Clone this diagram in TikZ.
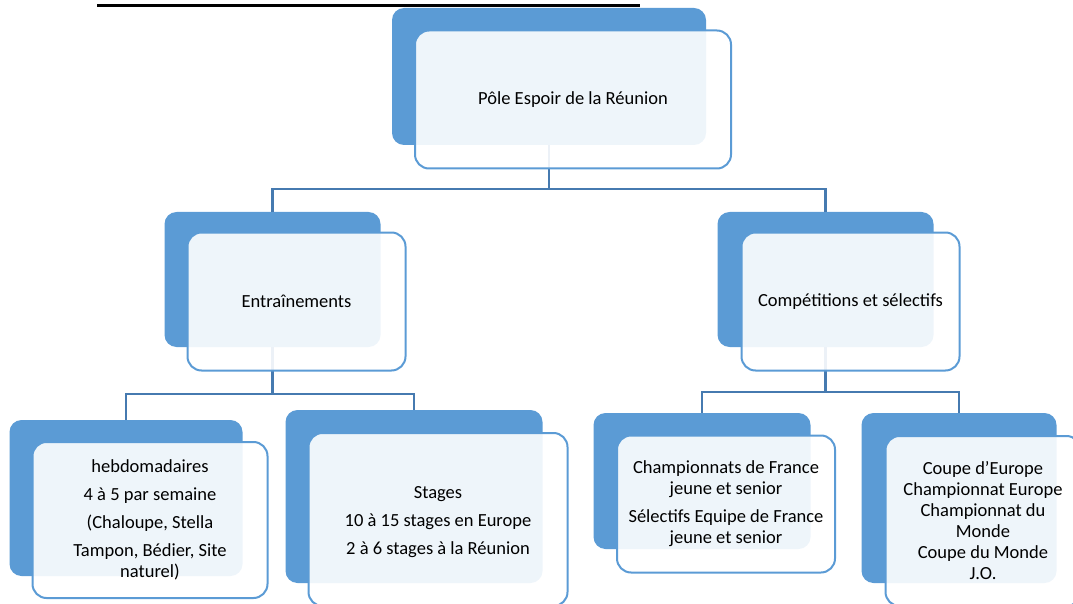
\documentclass[tikz,border=0pt]{standalone}
\usepackage{fontspec}
\setmainfont{Carlito}
\usetikzlibrary{calc}
\definecolor{blk}{RGB}{91,155,213}
\definecolor{lnk}{RGB}{70,122,176}
\begin{document}
\begin{tikzpicture}[x=1pt,y=-1pt,
  back/.style={fill=blk, rounded corners=12pt, inner sep=0pt},
  front/.style={draw=blk, line width=2pt, fill=white, fill opacity=0.9, text opacity=1,
     rounded corners=14pt, inner sep=0pt, align=center, text=black,
     font=\fontsize{18.5}{21}\selectfont},
  conn/.style={draw=lnk, line width=2.5pt}]
\useasboundingbox (0,0) rectangle (1073,604);
% title underline (text cut off at top)
\coordinate (ul1) at (97,6);
\coordinate (ul2) at (640,6);
\draw[line width=3pt] (ul1) -- (ul2);
% back boxes
\node[back, minimum width=314pt, minimum height=137pt] (top) at (549,76.5) {};
\node[back, minimum width=216pt, minimum height=135pt] (ml) at (272.5,279.5) {};
\node[back, minimum width=216pt, minimum height=135pt] (mr) at (825.5,279.5) {};
\node[back, minimum width=233pt, minimum height=156pt] (b1) at (126,498) {};
\node[back, minimum width=257pt, minimum height=173pt] (b2) at (414,496.5) {};
\node[back, minimum width=217pt, minimum height=136pt] (b3) at (702,481) {};
\node[back, minimum width=195pt, minimum height=170pt] (b4) at (959,498) {};
% connectors
\coordinate (y1) at (0,189);
\coordinate (y2) at (0,394);
\coordinate (y3) at (0,392);
\draw[conn] (top.south) -- (top.south |- y1) -| (ml.north);
\draw[conn] (top.south |- y1) -| (mr.north);
\draw[conn] (ml.south) -- (ml.south |- y2) -| (b1.north);
\draw[conn] (ml.south |- y2) -| (b2.north);
\draw[conn] (mr.south) -- (mr.south |- y3) -| (b3.north);
\draw[conn] (mr.south |- y3) -| (b4.north);
% front boxes
\node[front, minimum width=316pt, minimum height=138pt] (topf) at ($(top.center)+(24,23)$) {Pôle Espoir de la Réunion};
\node[front, minimum width=218pt, minimum height=138pt] (mlf) at ($(ml.center)+(24,22)$) {Entraînements};
\node[front, minimum width=218pt, minimum height=138pt] (mrf) at ($(mr.center)+(25,22)$) {Compétitions et sélectifs};
\node[front, minimum width=235pt, minimum height=156pt] (b1f) at ($(b1.center)+(24,22)$) {hebdomadaires\\[7pt]4 à 5 par semaine\\[7pt](Chaloupe, Stella\\[7pt]Tampon, Bédier, Site\\naturel)};
\node[front, minimum width=259pt, minimum height=173pt] (b2f) at ($(b2.center)+(24,23)$) {\\[-4pt]Stages\\[7pt]10 à 15 stages en Europe\\[7pt]2 à 6 stages à la Réunion};
\node[front, minimum width=218pt, minimum height=137pt] (b3f) at ($(b3.center)+(24,23)$) {Championnats de France\\jeune et senior\\[7pt]Sélectifs Equipe de France\\jeune et senior};
\node[front, minimum width=195pt, minimum height=170pt] (b4f) at ($(b4.center)+(24,23)$) {Coupe d’Europe\\Championnat Europe\\Championnat du\\Monde\\Coupe du Monde\\J.O.};
\end{tikzpicture}
\end{document}
